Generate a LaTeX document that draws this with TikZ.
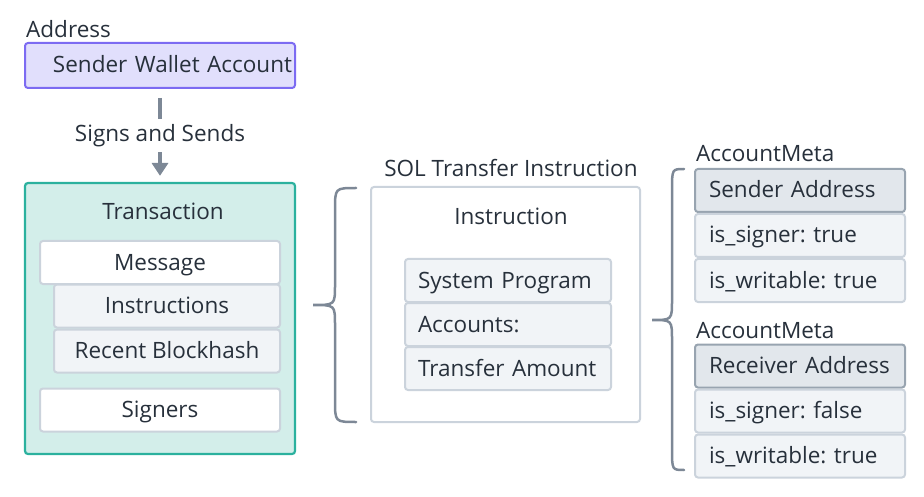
\documentclass[tikz,border=0pt]{standalone}
\usepackage{fontspec}
\setmainfont{Open Sans}
\usepackage{tikz}
\usetikzlibrary{arrows.meta, positioning}
\definecolor{ink}{HTML}{27303B}
\definecolor{slate}{HTML}{7D8896}
\definecolor{wallet-fill}{HTML}{E1DFFC}
\definecolor{wallet-line}{HTML}{7C6BF2}
\definecolor{tx-fill}{HTML}{D3EEEA}
\definecolor{tx-line}{HTML}{2BB19E}
\definecolor{cell-line}{HTML}{CBD3DC}
\definecolor{cell-fill}{HTML}{F1F4F7}
\definecolor{head-fill}{HTML}{E2E7EC}
\definecolor{head-line}{HTML}{98A4B0}

\tikzset{
    lbl/.style={inner sep=0pt, text=ink},
    walletbox/.style={draw=wallet-line, fill=wallet-fill, line width=2pt, rounded corners=3pt,
        minimum width=270pt, minimum height=45pt, text width=264pt, align=right, inner xsep=3pt, inner ysep=2pt,
        text height=16pt, text depth=1pt},
    groupbox/.style={draw=tx-line, fill=tx-fill, line width=2.2pt, rounded corners=3pt,
        minimum width=270pt, minimum height=271pt},
    outerbox/.style={draw=cell-line, fill=white, line width=2pt, rounded corners=3pt,
        minimum width=269pt, minimum height=235pt},
    cell/.style={draw=cell-line, fill=white, line width=2pt, rounded corners=3pt,
        minimum height=43pt, inner ysep=2pt, text height=16pt, text depth=1pt},
    subcell/.style={cell, fill=cell-fill},
    leftcell/.style={subcell, minimum width=206pt, text width=180pt, align=left, inner xsep=13pt},
    metacell/.style={subcell, minimum width=210pt, text width=182pt, align=left, inner xsep=14pt},
    headcell/.style={metacell, fill=head-fill, draw=head-line},
    flow/.style={-{Triangle[length=13pt,width=16pt]}, slate, line width=4.5pt},
    curly/.style={slate, line width=2.5pt, line cap=round}
}

\begin{document}
\frenchspacing
\begin{tikzpicture}[x=1pt, y=-1pt, font=\fontsize{22.5}{26}\selectfont, text=ink]
    \useasboundingbox (0,0) rectangle (924,497);

    % Sender wallet
    \node[lbl, anchor=base west] (addrlbl) at (26,38) {Address};
    \node[walletbox] (wallet) at (160,65.5) {Sender Wallet Account};

    % Transaction
    \node[groupbox] (tx) at (160,318.5) {};
    \node[lbl, anchor=base] (txlbl) at (163,220) {Transaction};
    \node[cell, minimum width=240pt] (msg) at (160,262.5) {Message};
    \node[subcell, minimum width=226pt] (ins) at (167,306) {Instructions};
    \node[subcell, minimum width=226pt, below=0pt of ins] (hash) {Recent Blockhash};
    \node[cell, minimum width=240pt] (sig) at (160,410) {Signers};

    \draw[flow, shorten <=9pt, shorten >=6pt] (wallet) -- node[lbl, fill=white, inner ysep=5pt] (signlbl) {Signs and Sends} (tx);

    % SOL transfer instruction
    \node[outerbox] (instr) at (505.5,304.5) {};
    \node[lbl, anchor=base] (sollbl) at (511,177) {SOL Transfer Instruction};
    \node[lbl, anchor=base] (instrlbl) at (511,225) {Instruction};
    \node[leftcell] (prog) at (508,280.5) {System Program};
    \node[leftcell, below=-1pt of prog] (accts) {Accounts:};
    \node[leftcell, below=-1pt of accts] (amt) {Transfer Amount};

    % Account metas
    \node[lbl, anchor=base west] (meta1lbl) at (696,162) {AccountMeta};
    \node[headcell] (sendaddr) at (800,190.5) {Sender Address};
    \node[metacell, below=0pt of sendaddr] (sendsig) {is\_signer: true};
    \node[metacell, below=0pt of sendsig] (sendwr) {is\_writable: true};
    \node[lbl, anchor=base west] (meta2lbl) at (696,338) {AccountMeta};
    \node[headcell] (recvaddr) at (800,366) {Receiver Address};
    \node[metacell, below=0pt of recvaddr] (recvsig) {is\_signer: false};
    \node[metacell, below=0pt of recvsig] (recvwr) {is\_writable: true};

    % Braces
    \foreach \xe/\xs/\xt/\yt/\ym/\yb in {356/335/313/188/305/422, 684/672/652/169/320/470} {
        \draw[curly] (\xe,\yt) .. controls (\xs,\yt) .. (\xs,\yt+22) -- (\xs,\ym-20)
            .. controls (\xs,\ym) .. (\xt,\ym) .. controls (\xs,\ym) .. (\xs,\ym+20)
            -- (\xs,\yb-22) .. controls (\xs,\yb) .. (\xe,\yb);
    }
\end{tikzpicture}
\end{document}
